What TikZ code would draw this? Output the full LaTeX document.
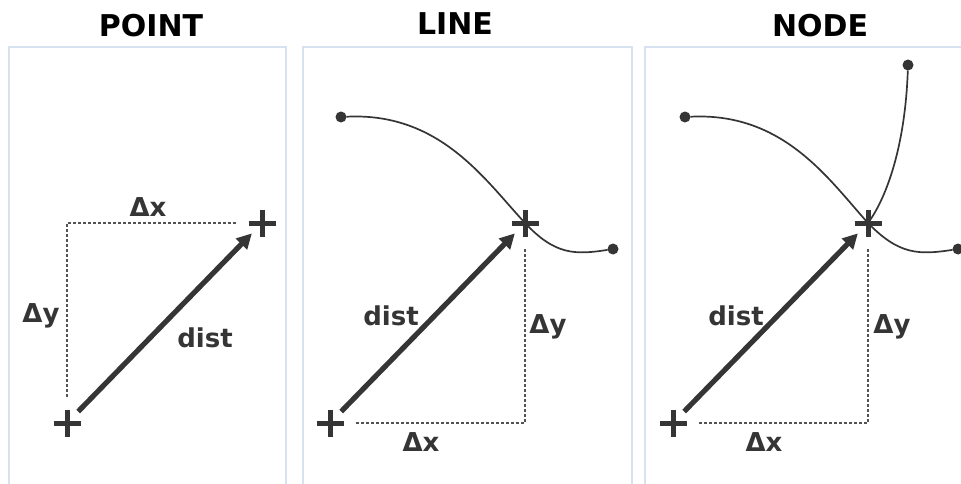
\documentclass[tikz,border=0pt]{standalone}
\usepackage{fontspec}
\setmainfont{DejaVu Sans}
\usepackage{xcolor}
\usepackage{tikz}
\usetikzlibrary{arrows.meta}
\definecolor{panelblue}{HTML}{D6E2EF}
\definecolor{inkgray}{HTML}{353535}

\tikzset{
    panel/.style={draw=panelblue, line width=2pt},
    heading/.style={font=\fontsize{30}{36}\selectfont\bfseries, text=black, inner sep=0pt},
    measure/.style={font=\fontsize{26}{30}\selectfont\bfseries, text=inkgray, inner sep=0pt},
    crossmark/.style={circle, minimum size=27pt, inner sep=0pt, outer sep=0pt},
    crossline/.style={draw=inkgray, line width=5pt},
    endpt/.style={circle, fill=inkgray, minimum size=11pt, inner sep=0pt, outer sep=0pt},
    distarrow/.style={draw=inkgray, line width=5.2pt, -{Triangle[length=15pt,width=15pt]},
        shorten <=2.5pt, shorten >=1pt},
    dashline/.style={draw=inkgray!85, dash pattern=on 3pt off 2pt, line width=1.3pt,
        shorten <=12.5pt, shorten >=11.5pt},
    wire/.style={draw=inkgray, line width=1.7pt},
}

\begin{document}
\begin{tikzpicture}[x=1pt, y=-1pt]
    \useasboundingbox (0,0) rectangle (961,484);
    \clip (0,0) rectangle (961,484);

    % frames and headings
    \draw[panel] (9,47) rectangle (286,495);
    \draw[panel] (303,47) rectangle (632,495);
    \draw[panel] (645,47) rectangle (975,495);
    \node[heading] (hpoint) at (151,26) {POINT};
    \node[heading] (hline) at (455,24) {LINE};
    \node[heading] (hnode) at (820,26) {NODE};

    % POINT
    \node[crossmark] (s1) at (67,423) {};
    \node[crossmark] (e1) at (262,223) {};
    \draw[dashline] (s1) |- (e1);
    \draw[distarrow] (s1) -- (e1);
    \node[measure] (dx1) at (148,207) {Δx};
    \node[measure] (dy1) at (41,316) {Δy};
    \node[measure] (d1) at (205,338) {dist};

    % LINE
    \node[endpt] (a2) at (341,117) {};
    \node[endpt] (b2) at (613,249) {};
    \node[crossmark] (s2) at (330,423) {};
    \node[crossmark] (e2) at (525,223) {};
    \draw[wire] (a2) .. controls (440,112) and (485,180) .. (e2.center)
        .. controls (555,255) and (575,255) .. (b2);
    \draw[dashline] (s2) -| (e2);
    \draw[distarrow] (s2) -- (e2);
    \node[measure] (dx2) at (421,442) {Δx};
    \node[measure] (dy2) at (548,327) {Δy};
    \node[measure] (d2) at (391,316) {dist};

    % NODE
    \node[endpt] (a3) at (685,117) {};
    \node[endpt] (b3) at (958,249) {};
    \node[endpt] (t3) at (908,65) {};
    \node[crossmark] (s3) at (673,423) {};
    \node[crossmark] (e3) at (868,223) {};
    \draw[wire] (a3) .. controls (784,112) and (829,180) .. (e3.center)
        .. controls (899,255) and (919,255) .. (b3);
    \draw[wire] (e3.center) .. controls (885,200) and (905,150) .. (t3);
    \draw[dashline] (s3) -| (e3);
    \draw[distarrow] (s3) -- (e3);
    \node[measure] (dx3) at (764,442) {Δx};
    \node[measure] (dy3) at (892,327) {Δy};
    \node[measure] (d3) at (736,316) {dist};

    % the plus marks
    \foreach \p in {s1,e1,s2,e2,s3,e3}
        \draw[crossline] (\p.north) -- (\p.south) (\p.west) -- (\p.east);
\end{tikzpicture}
\end{document}
